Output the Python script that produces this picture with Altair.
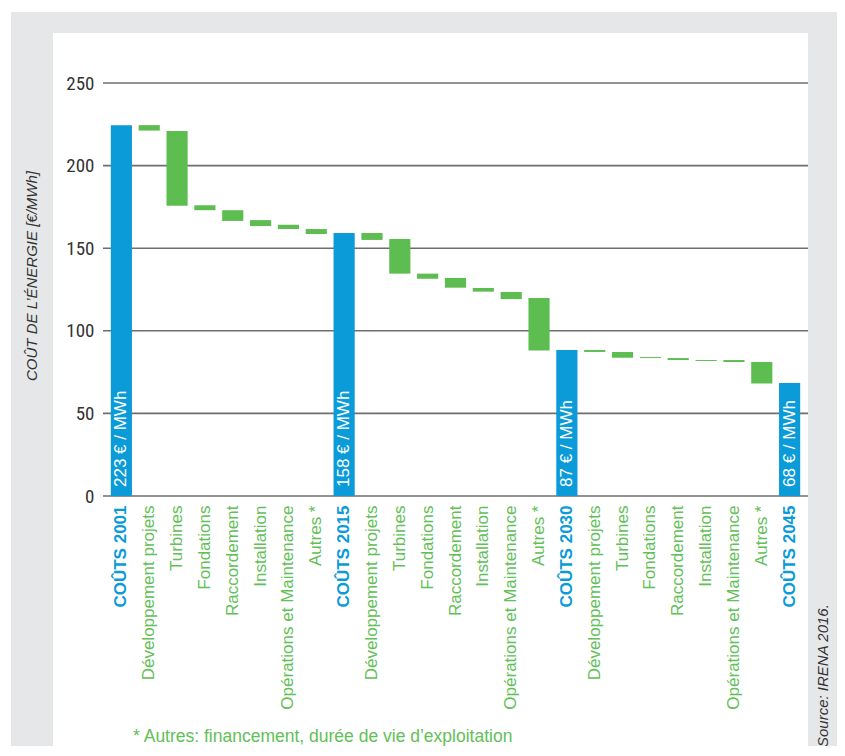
import json
import altair as alt
import pandas as pd

# ---- data ----
categories = [
    "COÛTS 2001", "Développement projets", "Turbines", "Fondations", "Raccordement",
    "Installation", "Opérations et Maintenance", "Autres *",
    "COÛTS 2015", "Développement projets", "Turbines", "Fondations", "Raccordement",
    "Installation", "Opérations et Maintenance", "Autres *",
    "COÛTS 2030", "Développement projets", "Turbines", "Fondations", "Raccordement",
    "Installation", "Opérations et Maintenance", "Autres *",
    "COÛTS 2045",
]
tops = [224.5, 224.5, 221.0, 176.0, 173.0, 167.0, 164.2, 161.6,
        159.2, 159.2, 155.6, 134.6, 132.0, 125.9, 123.5, 119.9,
        88.4, 88.4, 87.2, 84.1, 83.5, 82.3, 82.3, 81.1,
        68.4]
bottoms = [0, 221.2, 175.7, 173.0, 166.5, 163.4, 161.6, 158.6,
           0, 155.0, 134.6, 131.5, 126.1, 123.7, 119.2, 88.0,
           0, 87.2, 83.7, 83.5, 82.3, 81.7, 81.1, 68.1,
           0]
total_labels = ["223 € / MWh", "158 € / MWh", "87 € / MWh", "68 € / MWh"]
grid_values = [0, 50, 100, 150, 200, 250]

BLUE = "#0a9bd8"
GREEN = "#5ebd51"
GREEN_TXT = "#62c057"
GRAY_BG = "#e6e7e9"
FONT = "Liberation Sans"
NARROW = "Liberation Sans Narrow, Roboto Condensed, Liberation Sans"

W, H = 705, 413

kinds = []
barlabels = []
ti = 0
for i, c in enumerate(categories):
    if c.startswith("COÛTS"):
        kinds.append("total")
        barlabels.append(total_labels[ti])
        ti += 1
    else:
        kinds.append("step")
        barlabels.append("")

df = pd.DataFrame({"idx": list(range(len(categories))), "top": tops, "bottom": bottoms,
                   "kind": kinds, "barlabel": barlabels})
grid_df = pd.DataFrame({"g": grid_values})
one = alt.Data(values=[{}])

label_array = json.dumps(categories, ensure_ascii=False)

x_enc = alt.X(
    "idx:O",
    scale=alt.Scale(paddingInner=0.24, paddingOuter=0.28),
    axis=alt.Axis(
        title=None, labelAngle=-90, ticks=False, domain=False, grid=False,
        labelPadding=9, labelFont=FONT, labelFontSize=17, zindex=1, labelLimit=400,
        labelExpr=label_array + "[datum.value]",
        labelColor=alt.condition("datum.value % 8 == 0", alt.value(BLUE), alt.value(GREEN_TXT)),
        labelFontWeight=alt.condition("datum.value % 8 == 0", alt.value("bold"), alt.value("normal")),
    ),
)

y_axis = alt.Axis(title=None, grid=False, domain=False, ticks=False, values=grid_values,
                  labelPadding=9, labelFont=NARROW, labelFontSize=19, labelColor="#333333",
                  zindex=1)
y_scale = alt.Scale(domain=[0, 250], nice=False, zero=True)

gray = alt.Chart(one).mark_rect(color=GRAY_BG).encode(
    x=alt.value(-92), x2=alt.value(741), y=alt.value(-71), y2=alt.value(680))
white = alt.Chart(one).mark_rect(color="#ffffff").encode(
    x=alt.value(-50), x2=alt.value(705), y=alt.value(-50), y2=alt.value(666))

grid = alt.Chart(grid_df).mark_rule(color="#6e6e6e", strokeWidth=1.6).encode(
    y=alt.Y("g:Q", scale=y_scale, axis=y_axis))

bars = alt.Chart(df).mark_bar().encode(
    x=x_enc,
    y=alt.Y("top:Q", scale=y_scale, axis=y_axis),
    y2="bottom:Q",
    color=alt.Color("kind:N", scale=alt.Scale(domain=["total", "step"], range=[BLUE, GREEN]),
                    legend=None),
)

bar_text = alt.Chart(df).transform_filter("datum.kind == 'total'").mark_text(
    angle=270, align="left", baseline="middle", dx=9, color="white",
    font=FONT, fontSize=17).encode(
    x=x_enc,
    y=alt.Y("bottom:Q", scale=y_scale, axis=y_axis),
    text="barlabel:N",
)

ytitle = alt.Chart(one).mark_text(
    text="COÛT DE L’ÉNERGIE [€/MWh]", angle=270, align="center", baseline="alphabetic",
    font=FONT, fontSize=15, fontStyle="italic", color="#333333").encode(
    x=alt.value(-66), y=alt.value(193))

footnote = alt.Chart(one).mark_text(
    text="* Autres: financement, durée de vie d’exploitation", align="left",
    baseline="alphabetic", font=FONT, fontSize=17.5, color=GREEN_TXT).encode(
    x=alt.value(30), y=alt.value(659))

source = alt.Chart(one).mark_text(
    text="Source: IRENA 2016.", angle=270, align="left", baseline="alphabetic",
    font=FONT, fontSize=15, fontStyle="italic", color="#333333").encode(
    x=alt.value(725), y=alt.value(664))

chart = alt.layer(gray, white, grid, bars, bar_text, ytitle, footnote, source).properties(
    width=W, height=H,
    padding={"left": 95, "top": 75, "right": 29, "bottom": 250},
    autosize=alt.AutoSizeParams(type="none"),
    background="#ffffff",
).configure_view(stroke=None)

chart.save("out.html", embed_options={"renderer": "svg", "actions": False})
